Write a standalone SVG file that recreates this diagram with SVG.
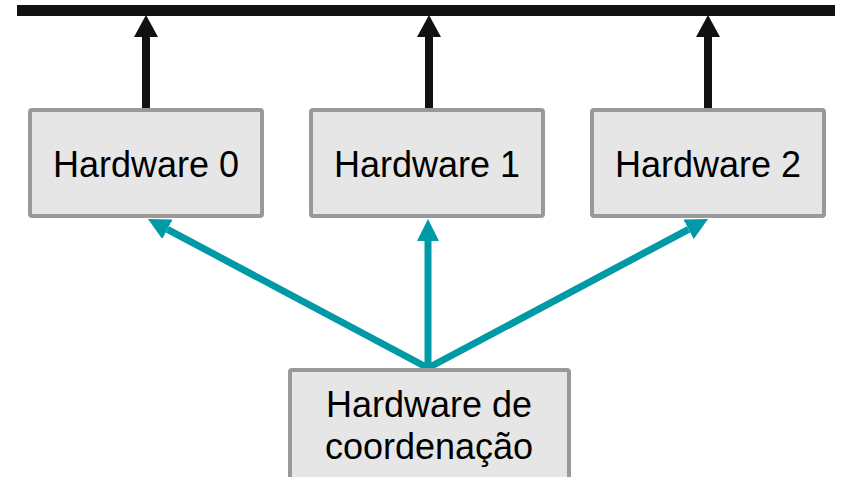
<svg xmlns="http://www.w3.org/2000/svg" width="843" height="477" viewBox="0 0 843 477">
  <style>
    .box { fill: #e6e6e6; stroke: #999999; stroke-width: 4; }
    .label { font-family: "Liberation Sans", Arial, sans-serif; font-size: 36px; fill: #000000; text-anchor: middle; }
    .up { stroke: #111111; stroke-width: 8; fill: none; }
    .ctl { stroke: #0099a6; stroke-width: 7; fill: none; }
  </style>
  <defs>
    <marker id="headBlack" markerUnits="userSpaceOnUse" markerWidth="22" markerHeight="24" viewBox="0 -12 22 24" refX="0" refY="0" orient="auto">
      <path d="M0,-12 L22,0 L0,12 z" fill="#111111"/>
    </marker>
    <marker id="headTeal" markerUnits="userSpaceOnUse" markerWidth="22" markerHeight="22" viewBox="0 -11 22 22" refX="0" refY="0" orient="auto">
      <path d="M0,-11 L22,0 L0,11 z" fill="#0099a6"/>
    </marker>
  </defs>

  <!-- shared bus -->
  <rect id="bus" x="17" y="5" width="818" height="11" fill="#111111"/>

  <g id="connectors">
    <line class="up" x1="146" y1="108" x2="146" y2="37" marker-end="url(#headBlack)"/>
    <line class="up" x1="429" y1="108" x2="429" y2="37" marker-end="url(#headBlack)"/>
    <line class="up" x1="708" y1="108" x2="708" y2="37" marker-end="url(#headBlack)"/>
    <line class="ctl" x1="428" y1="368" x2="167.4" y2="229.3" marker-end="url(#headTeal)"/>
    <line class="ctl" x1="428" y1="368" x2="428" y2="241" marker-end="url(#headTeal)"/>
    <line class="ctl" x1="428" y1="368" x2="688.6" y2="229.3" marker-end="url(#headTeal)"/>
  </g>

  <g id="hw0">
    <rect class="box" x="30" y="110" width="232" height="106" rx="2"/>
    <text class="label" x="146" y="177">Hardware 0</text>
  </g>
  <g id="hw1">
    <rect class="box" x="311" y="110" width="232" height="106" rx="2"/>
    <text class="label" x="427" y="177">Hardware 1</text>
  </g>
  <g id="hw2">
    <rect class="box" x="592" y="110" width="232" height="106" rx="2"/>
    <text class="label" x="708" y="177">Hardware 2</text>
  </g>
  <g id="coord">
    <rect class="box" x="290" y="370" width="279" height="112" rx="2"/>
    <text class="label" x="429" y="417">Hardware de</text>
    <text class="label" x="429" y="459">coordenação</text>
  </g>
</svg>
